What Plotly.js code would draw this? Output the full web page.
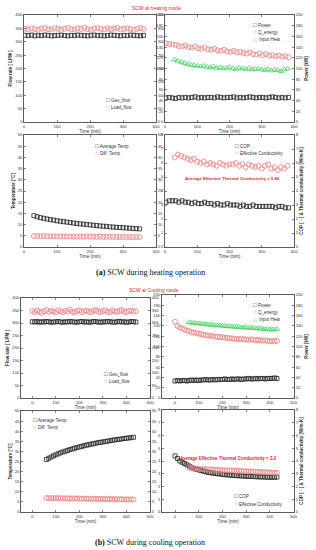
<!DOCTYPE html>
<html><head><meta charset="utf-8">
<script src="https://cdn.plot.ly/plotly-3.0.1.min.js"></script>
<style>html,body{margin:0;padding:0;background:#fff}#chart{width:316px;height:550px}</style>
</head><body><div id="chart"></div>
<script>
// ---------- (a) heating ----------
const tA_flow = [3,13,23,33,43,53,63,73,83,93,103,113,123,133,143,153,163,173,183,193,203,213,223,233,243,253,263,273,283,293,303,313,323,333,343,353,362];
const geoFlowA = [324,323,325,322,324,323,325,324,322,323,324,325,323,322,324,323,325,324,323,322,324,325,323,324,322,323,325,324,323,322,324,323,325,324,323,322,324];
const loadFlowA = [349,346,350,347,345,349,351,347,346,350,348,345,349,351,347,346,350,348,352,347,345,349,351,348,346,350,347,349,352,346,348,350,347,345,349,351,348];

const tA_pow = [3,13,23,33,43,53,63,73,83,93,103,113,123,133,143,153,163,173,183,193,203,213,223,233,243,253,263,273,283,293,303,313,323,333,343,353,363,373,383];
const powerA = [45,46,45,44,46,45,46,45,46,47,45,46,45,46,46,45,47,46,45,46,46,47,45,46,45,46,47,46,45,46,46,45,46,47,46,45,46,45,46];
const qEnergyA = [147,146,145,144,142,141,143,140,139,141,138,137,139,136,135,137,134,133,135,132,131,133,130,131,129,128,130,127,126,128,125,127,124,125,123,124,122,123,121];
const tA_heat = [30,40,50,60,70,80,90,100,110,120,130,140,150,160,170,180,190,200,210,220,230,240,250,260,270,280,290,300,310,320,330,340,350,360,370,380];
const inputHeatA = [117,114,112,110,108,107,106,105,104,105,103,102,104,101,102,100,101,103,100,99,101,100,99,101,98,99,100,98,97,99,96,98,97,95,98,100];

const tA_temp = [30,40,50,60,70,80,90,100,110,120,130,140,150,160,170,180,190,200,210,220,230,240,250,260,270,280,290,300,310,320,330,340,350];
const avgTempA = [14.0,13.5,13.1,12.8,12.5,12.2,12.0,11.7,11.5,11.3,11.1,10.9,10.7,10.5,10.3,10.2,10.0,9.9,9.7,9.6,9.4,9.3,9.2,9.0,8.9,8.8,8.7,8.6,8.5,8.4,8.3,8.2,8.1];
const diffTempA = [4.9,4.9,4.8,4.9,4.8,4.8,4.8,4.7,4.8,4.7,4.7,4.7,4.6,4.7,4.6,4.6,4.7,4.6,4.6,4.5,4.6,4.5,4.6,4.5,4.5,4.5,4.4,4.5,4.5,4.4,4.4,4.5,4.4];

const tA_cop = [3,13,23,33,43,53,63,73,83,93,103,113,123,133,143,153,163,173,183,193,203,213,223,233,243,253,263,273,283,293,303,313,323,333,343,353,363,373,383];
const copA = [3.2,3.3,3.3,3.3,3.2,3.3,3.2,3.2,3.1,3.2,3.1,3.1,3.2,3.1,3.1,3.0,3.1,3.0,3.0,3.1,3.0,3.0,3.0,2.9,3.0,2.9,2.9,3.0,2.9,2.9,2.9,2.9,2.9,2.9,2.8,2.9,2.9,2.8,2.8];
const tA_eff = [30,40,50,60,70,80,90,100,110,120,130,140,150,160,170,180,190,200,210,220,230,240,250,260,270,280,290,300,310,320,330,340,350,360,370,380];
const effCondA = [6.4,6.6,6.5,6.4,6.3,6.2,6.3,6.1,6.0,6.1,5.9,6.0,5.9,5.8,6.0,5.9,5.8,5.9,5.9,6.0,5.8,5.9,5.7,5.9,5.8,5.7,5.8,5.6,5.8,5.9,5.6,5.7,5.5,5.7,5.6,5.8];

// ---------- (b) cooling ----------
const tB_flow = [0,10,20,30,40,50,60,70,80,90,100,110,120,130,140,150,160,170,180,190,200,210,220,230,240,250,260,270,280,290,300,310,320,330,340,350,360,370,380,390,400,410,420,430,440];
const geoFlowB = [305,304,306,303,305,304,306,305,303,304,305,306,304,303,305,304,306,305,304,303,305,306,304,305,303,304,306,305,304,303,305,304,306,305,304,303,305,306,304,305,303,304,306,305,304];
const loadFlowB = [348,343,350,345,341,347,352,344,349,346,342,351,347,343,349,345,353,346,342,348,351,344,347,350,345,343,349,352,346,344,348,351,345,342,350,347,344,349,352,346,343,348,350,345,347];

const tB_pow = [0,10,20,30,40,50,60,70,80,90,100,110,120,130,140,150,160,170,180,190,200,210,220,230,240,250,260,270,280,290,300,310,320,330,340,350,360,370,380,390,400,410,420,430];
const powerB = [33,34,33,34,34,33,34,35,34,35,34,35,35,36,35,35,36,35,36,36,36,37,36,36,37,36,37,37,36,37,37,38,37,37,38,37,38,38,37,38,38,38,39,38];
const qEnergyB = [148,140,137,135,133,131,130,128,127,126,125,124,123,122,121,121,120,119,119,118,118,117,117,116,116,115,115,114,115,114,114,113,114,113,112,113,112,111,112,111,110,111,110,111];
const tB_heat = [60,70,80,90,100,110,120,130,140,150,160,170,180,190,200,210,220,230,240,250,260,270,280,290,300,310,320,330,340,350,360,370,380,390,400,410,420,430];
const inputHeatB = [147,146,146,145,145,144,144,143,143,142,142,141,141,141,140,140,139,139,139,138,138,138,137,137,137,136,136,136,135,135,135,134,134,134,133,133,133,134];

const tB_temp = [60,70,80,90,100,110,120,130,140,150,160,170,180,190,200,210,220,230,240,250,260,270,280,290,300,310,320,330,340,350,360,370,380,390,400,410,420,430];
const avgTempB = [26.0,26.6,27.2,27.8,28.3,28.8,29.3,29.7,30.1,30.5,30.9,31.2,31.6,31.9,32.2,32.5,32.8,33.1,33.3,33.6,33.8,34.1,34.3,34.5,34.7,34.9,35.1,35.3,35.5,35.7,35.9,36.0,36.2,36.4,36.5,36.7,36.8,37.0];
const diffTempB = [6.9,6.9,6.9,6.8,6.9,6.8,6.8,6.8,6.7,6.8,6.7,6.7,6.7,6.6,6.7,6.6,6.6,6.6,6.5,6.6,6.5,6.5,6.5,6.4,6.5,6.4,6.4,6.4,6.3,6.4,6.3,6.3,6.3,6.2,6.3,6.2,6.2,6.2];

const tB_cop = [0,10,20,30,40,50,60,70,80,90,100,110,120,130,140,150,160,170,180,190,200,210,220,230,240,250,260,270,280,290,300,310,320,330,340,350,360,370,380,390,400,410,420,430];
const copB = [4.4,4.2,4.0,3.9,3.8,3.7,3.6,3.5,3.4,3.35,3.3,3.25,3.2,3.15,3.1,3.08,3.05,3.02,3.0,2.98,2.95,2.93,2.9,2.9,2.88,2.86,2.85,2.84,2.83,2.82,2.8,2.8,2.79,2.78,2.77,2.76,2.75,2.75,2.74,2.73,2.72,2.73,2.72,2.74];
const tB_eff = [60,70,80,90,100,110,120,130,140,150,160,170,180,190,200,210,220,230,240,250,260,270,280,290,300,310,320,330,340,350,360,370,380,390,400,410,420,430];
const effCondB = [3.5,3.45,3.42,3.4,3.38,3.37,3.36,3.35,3.34,3.33,3.32,3.31,3.3,3.29,3.28,3.27,3.27,3.26,3.25,3.24,3.23,3.22,3.21,3.2,3.19,3.19,3.18,3.17,3.16,3.15,3.14,3.13,3.12,3.11,3.1,3.09,3.08,3.07];

// ---------- styling / layout ----------
const W = 316, H = 550;
const FONT = 'Liberation Sans, Arial, sans-serif';
const SERIF = 'Liberation Serif, Times New Roman, serif';
const BLACK = '#222', PINK = 'rgb(236,128,128)', GREEN = 'rgb(70,212,100)', RED = 'rgb(226,40,40)';

const panels = [
  {x:[24,156], y:[15,122],  xr:[0,400],   yr:[0,400], dt:50, lt:'Flow rate [ LPM ]', rt:''},
  {x:[165,294],y:[15,122],  xr:[0,400],   yr:[0,200], dt:20, lt:'', rt:'Power [kW]'},
  {x:[24,156], y:[135,247], xr:[0,400],   yr:[0,50],  dt:5,  lt:'Temperature [°C]', rt:''},
  {x:[165,294],y:[135,247], xr:[0,400],   yr:[0,8],   dt:1,  lt:'', rt:'COP [ - ] & Thermal conductivity [W/m·K]'},
  {x:[21,150], y:[298,398], xr:[-48,500], yr:[0,400], dt:50, lt:'Flow rate [ LPM ]', rt:''},
  {x:[162,294],y:[295,398], xr:[-55,502], yr:[0,200], dt:20, lt:'', rt:'Power [kW]'},
  {x:[21,150], y:[411,512], xr:[-48,500], yr:[0,50],  dt:5,  lt:'Temperature [°C]', rt:''},
  {x:[162,294],y:[410,512], xr:[-55,502], yr:[0,8],   dt:1,  lt:'', rt:'COP [ - ] & Thermal conductivity [W/m·K]'}
];

const layout = {width:W, height:H, margin:{l:0,r:0,t:0,b:0}, paper_bgcolor:'#fff', plot_bgcolor:'#fff',
  showlegend:false, font:{family:FONT, color:'#333'}, annotations:[]};

const tickfont = {size:4.2, family:FONT, color:'#333'};
const data = [];
panels.forEach((p,k)=>{
  const i = k+1, yl = 2*i-1, yr = 2*i;
  const xkey = i===1 ? 'xaxis' : 'xaxis'+i;
  const ylkey = yl===1 ? 'yaxis' : 'yaxis'+yl;
  const yrkey = 'yaxis'+yr;
  const common = {ticks:'inside', ticklen:2, tickwidth:0.6, tickcolor:'#333', showline:true, linewidth:0.8, linecolor:'#333',
    showgrid:false, zeroline:false, tickfont:tickfont, automargin:false, fixedrange:true};
  layout[xkey] = Object.assign({}, common, {domain:[p.x[0]/W, p.x[1]/W], anchor:'y'+yl, range:p.xr, tick0:0, dtick:100,
    mirror:'ticks', title:{text:'Time (min)', font:{size:4.5,family:FONT,color:'#333'}, standoff:1}});
  layout[ylkey] = Object.assign({}, common, {domain:[1-p.y[1]/H, 1-p.y[0]/H], anchor:'x'+i, range:p.yr, tick0:0, dtick:p.dt,
    title:{text:p.lt ? '<b>'+p.lt+'</b>' : '', font:{size:4.5,family:FONT,color:'#333'}, standoff:2}});
  layout[yrkey] = Object.assign({}, common, {overlaying:'y'+yl, side:'right', anchor:'x'+i, range:p.yr, tick0:0, dtick:p.dt,
    title:{text:p.rt ? '<b>'+p.rt+'</b>' : '', font:{size:4.5,family:FONT,color:'#333'}, standoff:2}});
  // empty trace so that the right-hand axis is drawn
  data.push({type:'scatter', mode:'markers', x:[], y:[], xaxis:'x'+i, yaxis:'y'+yr, showlegend:false, hoverinfo:'skip'});
});

function tr(panel, x, y, symbol, color, size, name){
  return {type:'scatter', mode:'markers', x:x, y:y, name:name, xaxis:'x'+panel, yaxis:'y'+(2*panel-1),
    marker:{symbol:symbol, size:size, color:color, line:{width:0.8, color:color}}, hoverinfo:'skip'};
}
data.push(
  tr(1, tA_flow, geoFlowA, 'square-open', BLACK, 4, 'Geo_flow'),
  tr(1, tA_flow, loadFlowA, 'circle-open', PINK, 5, 'Load_flow'),
  tr(2, tA_pow, powerA, 'square-open', BLACK, 4, 'Power'),
  tr(2, tA_pow, qEnergyA, 'circle-open', PINK, 5, 'Q_energy'),
  tr(2, tA_heat, inputHeatA, 'triangle-up-open', GREEN, 5, 'Input Heat'),
  tr(3, tA_temp, avgTempA, 'square-open', BLACK, 4, 'Average Temp'),
  tr(3, tA_temp, diffTempA, 'circle-open', PINK, 5, 'Diff. Temp'),
  tr(4, tA_cop, copA, 'square-open', BLACK, 4, 'COP'),
  tr(4, tA_eff, effCondA, 'circle-open', PINK, 5, 'Effective Conductivity'),
  tr(5, tB_flow, geoFlowB, 'square-open', BLACK, 4, 'Geo_flow'),
  tr(5, tB_flow, loadFlowB, 'circle-open', PINK, 5, 'Load_flow'),
  tr(6, tB_pow, powerB, 'square-open', BLACK, 4, 'Power'),
  tr(6, tB_pow, qEnergyB, 'circle-open', PINK, 5, 'Q_energy'),
  tr(6, tB_heat, inputHeatB, 'triangle-up-open', GREEN, 5, 'Input Heat'),
  tr(7, tB_temp, avgTempB, 'square-open', BLACK, 4, 'Average Temp'),
  tr(7, tB_temp, diffTempB, 'circle-open', PINK, 5, 'Diff. Temp'),
  tr(8, tB_cop, copB, 'square-open', BLACK, 4, 'COP'),
  tr(8, tB_eff, effCondB, 'circle-open', PINK, 5, 'Effective Conductivity')
);

function ann(px, py, text, opts){
  layout.annotations.push(Object.assign({xref:'paper', yref:'paper', x:px/W, y:1-py/H, text:text, showarrow:false,
    xanchor:'center', yanchor:'middle', font:{size:4.5, family:FONT, color:'#333'}}, opts||{}));
}
function legItem(px, py, sym, color, label){
  ann(px, py, '<span style="color:'+color+';font-size:6px">'+sym+'</span> '+label, {xanchor:'left', align:'left'});
}
// figure titles
ann(156, 8, 'SCW at heating mode', {font:{size:5, family:FONT, color:RED}});
ann(154, 290, 'SCW at Cooling mode', {font:{size:5, family:FONT, color:RED}});
// legends (a)
legItem(104, 100, '□', BLACK, 'Geo_flow');
legItem(104, 107, '○', PINK, 'Load_flow');
legItem(251, 25, '□', BLACK, 'Power');
legItem(251, 32, '○', PINK, 'Q_energy');
legItem(251, 39, '△', GREEN, 'Input Heat');
legItem(93, 146, '□', BLACK, 'Average Temp');
legItem(93, 153, '○', PINK, 'Diff. Temp');
legItem(233, 146, '□', BLACK, 'COP');
legItem(233, 153, '○', PINK, 'Effective Conductivity');
// legends (b)
legItem(102, 374, '□', BLACK, 'Geo_flow');
legItem(102, 381, '○', PINK, 'Load_flow');
legItem(251, 305, '□', BLACK, 'Power');
legItem(251, 312, '○', PINK, 'Q_energy');
legItem(251, 319, '△', GREEN, 'Input Heat');
legItem(31, 420, '□', BLACK, 'Average Temp');
legItem(31, 427, '○', PINK, 'Diff. Temp');
legItem(232, 496, '□', BLACK, 'COP');
legItem(232, 504, '○', PINK, 'Effective Conductivity');
// conductivity notes
ann(232, 178, '<b>Average Effective Thermal Conductivity = 5.86</b>', {font:{size:4.3, family:FONT, color:RED}});
ann(228, 458, '<b>Average Effective Thermal Conductivity = 3.2</b>', {font:{size:4.5, family:FONT, color:RED}});
// captions
ann(150, 272, '<b>(a)</b> SCW during heating operation', {font:{size:8, family:SERIF, color:'#111'}});
ann(150, 542, '<b>(b)</b> SCW during cooling operation', {font:{size:8, family:SERIF, color:'#111'}});

Plotly.newPlot('chart', data, layout, {staticPlot:true, displayModeBar:false});
</script></body></html>
